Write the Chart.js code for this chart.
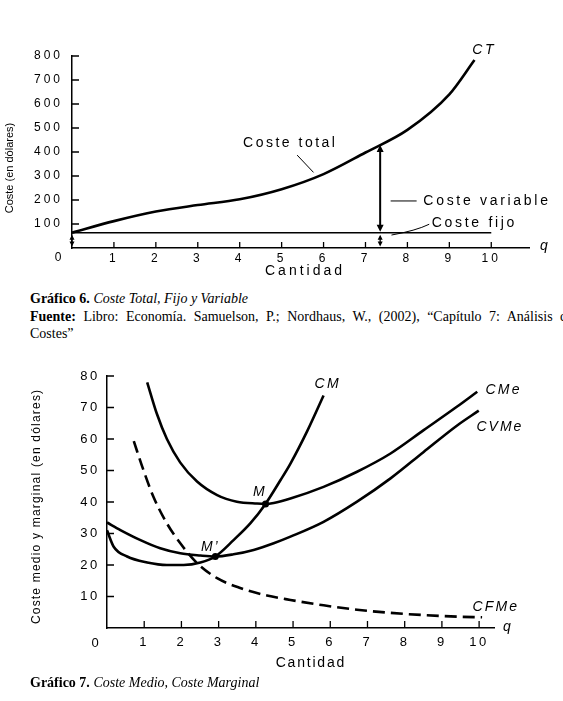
<!DOCTYPE html>
<html lang="es">
<head>
<meta charset="utf-8">
<title>Coste total, medio y marginal</title>
<script src="https://cdn.jsdelivr.net/npm/chart.js@4.4.0/dist/chart.umd.min.js"></script>
<style>
  html, body { margin: 0; padding: 0; background: #fff; }
  body { width: 563px; height: 701px; position: relative; overflow: hidden; }
  canvas { position: absolute; left: 0; }
  #grafico6 { top: 0; }
  #grafico7 { top: 350px; }
  .pie {
    position: absolute; left: 30px;
    font-family: "Liberation Serif", "Times New Roman", serif;
    font-size: 14px; line-height: 17.5px; color: #000; white-space: nowrap;
  }
  .justificada { word-spacing: 4px; }
</style>
</head>
<body>
<canvas id="grafico6" width="563" height="290"></canvas>
<div class="pie" style="top:290px"><b>Gráfico 6.</b> <i>Coste Total, Fijo y Variable</i><br><span class="justificada"><b>Fuente:</b> Libro: Economía. Samuelson, P.; Nordhaus, W., (2002), “Capítulo 7: Análisis de</span><br>Costes”</div>
<canvas id="grafico7" width="563" height="330"></canvas>
<div class="pie" style="top:674px"><b>Gráfico 7.</b> <i>Coste Medio, Coste Marginal</i></div>

<script>
// ---- Gráfico 6: coste total, fijo y variable ----
const qTotal      = [0, 1, 2, 3, 4, 5, 6, 7, 8, 9, 9.6];
const costeTotal  = [64, 112, 152, 179, 203, 245, 308, 398, 492, 640, 783];
const costeFijo   = 64;     // recta del coste fijo
const qFijoFin    = 10;     // hasta donde llega esa recta
const qVariable   = 7.35;   // cantidad donde se marca el coste variable
const ctEnQVar    = 429;    // coste total en esa cantidad
const ticksQ6     = [1, 2, 3, 4, 5, 6, 7, 8, 9, 10];
const ticksCoste6 = [100, 200, 300, 400, 500, 600, 700, 800];

// ---- Gráfico 7: coste medio y marginal ----
const qCM   = [0, 0.18, 0.54, 1.08, 1.61, 2.06, 2.51, 2.91, 3.4, 3.85, 4.26, 4.66, 4.93, 5.38, 5.82];
const cM    = [31, 25.8, 22.7, 20.8, 20, 20, 20.8, 22.7, 27.9, 33.2, 39.4, 46.9, 52.2, 62.5, 73.8];
const qCMe  = [1.08, 1.34, 1.61, 1.97, 2.42, 2.96, 3.49, 4.03, 4.26, 4.48, 4.93, 5.82, 6.72, 7.62, 8.51, 9.41, 9.95];
const cMe   = [78, 68, 60, 52.5, 46.5, 42.2, 40.1, 39.5, 39.4, 39.7, 41.1, 44.8, 49.6, 55.4, 62.8, 70.3, 75];
const qCVMe = [0, 0.36, 0.9, 1.43, 1.97, 2.51, 2.91, 3.4, 3.94, 4.48, 4.93, 5.82, 6.72, 7.62, 8.51, 9.41, 9.99];
const cVMe  = [33.5, 31.1, 27.9, 25.3, 23.7, 23, 22.7, 23.4, 24.8, 26.9, 29, 33.7, 40.1, 47.5, 55.9, 64.3, 69];
const qCFMe = [0.72, 0.98, 1.25, 1.61, 1.97, 2.42, 2.96, 3.58, 4.3, 4.93, 5.82, 6.72, 7.62, 8.51, 9.41, 10.08];
const cFMe  = [59.3, 50.1, 41.6, 33.2, 26.9, 20.6, 15.8, 12.7, 10.3, 8.9, 7.2, 5.8, 4.8, 4.1, 3.6, 3.4];
const puntoM  = { q: 4.26, c: 39.4 };
const puntoMp = { q: 2.91, c: 22.7 };
const ticksQ7     = [1, 2, 3, 4, 5, 6, 7, 8, 9, 10];
const ticksCoste7 = [10, 20, 30, 40, 50, 60, 70, 80];

const FUENTE = '"Liberation Sans", Arial, Helvetica, sans-serif';
Chart.defaults.font.family = FUENTE;
Chart.defaults.color = '#000';
Chart.defaults.animation = false;

function puntos(qs, cs) {
    return qs.map((q, i) => ({ x: q, y: cs[i] }));
}

function linea(data, extra) {
    return Object.assign({
        type: 'line', data, borderColor: '#000', backgroundColor: '#000',
        borderWidth: 2.6, pointRadius: 0, fill: false,
        cubicInterpolationMode: 'monotone'
    }, extra);
}

// texto con espaciado entre letras, opcionalmente girado
function texto(ctx, str, x, y, op) {
    const sp = op.spacing || 0;
    ctx.save();
    ctx.font = op.font;
    ctx.letterSpacing = sp + 'px';
    ctx.fillStyle = '#000';
    ctx.textBaseline = 'middle';
    ctx.textAlign = 'left';
    const w = ctx.measureText(str).width - sp;
    let dx = 0;
    if (op.align === 'center') dx = -w / 2;
    else if (op.align === 'right') dx = -w;
    ctx.translate(x, y);
    if (op.rotate) ctx.rotate(op.rotate);
    ctx.fillText(str, dx, 0);
    ctx.restore();
}

function segmento(ctx, x1, y1, x2, y2, ancho) {
    ctx.save();
    ctx.strokeStyle = '#000';
    ctx.lineWidth = ancho;
    ctx.beginPath();
    ctx.moveTo(x1, y1);
    ctx.lineTo(x2, y2);
    ctx.stroke();
    ctx.restore();
}

// flecha vertical con punta en los dos extremos (y1 arriba, y2 abajo)
function dobleFlecha(ctx, x, y1, y2, ancho, punta) {
    segmento(ctx, x, y1 + punta * 0.8, x, y2 - punta * 0.8, ancho);
    ctx.save();
    ctx.fillStyle = '#000';
    ctx.beginPath();
    ctx.moveTo(x, y1);
    ctx.lineTo(x - punta * 0.5, y1 + punta);
    ctx.lineTo(x + punta * 0.5, y1 + punta);
    ctx.closePath();
    ctx.moveTo(x, y2);
    ctx.lineTo(x - punta * 0.5, y2 - punta);
    ctx.lineTo(x + punta * 0.5, y2 - punta);
    ctx.closePath();
    ctx.fill();
    ctx.restore();
}

// las marcas de los ejes van hacia dentro del gráfico
function marcasInternas(chart, largoX, largoY) {
    const { ctx, chartArea: a, scales: { x, y } } = chart;
    ctx.save();
    ctx.strokeStyle = '#000';
    ctx.lineWidth = 1.3;
    ctx.beginPath();
    x.ticks.forEach(t => {
        const px = x.getPixelForValue(t.value);
        ctx.moveTo(px, a.bottom);
        ctx.lineTo(px, a.bottom - largoX);
    });
    y.ticks.forEach(t => {
        const py = y.getPixelForValue(t.value);
        ctx.moveTo(a.left, py);
        ctx.lineTo(a.left + largoY, py);
    });
    ctx.stroke();
    ctx.restore();
}

function ejes(cfg) {
    return {
        x: {
            type: 'linear', min: 0, max: cfg.xMax,
            afterBuildTicks: s => { s.ticks = cfg.ticksX.map(v => ({ value: v })); },
            afterFit: s => { s.height = 20; },
            grid: { display: false, drawTicks: false },
            border: { color: '#000', width: 1.5 },
            ticks: { padding: cfg.padX, font: { size: cfg.fontTicks }, maxRotation: 0, autoSkip: false }
        },
        y: {
            type: 'linear', min: 0, max: cfg.yMax,
            afterBuildTicks: s => { s.ticks = cfg.ticksY.map(v => ({ value: v })); },
            afterFit: s => { s.width = cfg.anchoY; },
            grid: { display: false, drawTicks: false },
            border: { color: '#000', width: 1.5 },
            ticks: { padding: cfg.padY, font: { size: cfg.fontTicks }, autoSkip: false }
        }
    };
}

const espaciado = sp => ({
    id: 'espaciado',
    beforeDraw(chart) { chart.ctx.letterSpacing = sp + 'px'; }
});

const f14 = '14px ' + FUENTE;
const i14 = 'italic 14px ' + FUENTE;

const notas6 = {
    id: 'notas6',
    afterDraw(chart) {
        const { ctx, chartArea: a, scales: { x, y } } = chart;
        marcasInternas(chart, 6, 7);
        const X = v => x.getPixelForValue(v);
        const Y = v => y.getPixelForValue(v);

        texto(ctx, '0', X(0) - 14, a.bottom + 10, { font: '12px ' + FUENTE, align: 'center' });
        texto(ctx, 'q', a.right + 15, a.bottom - 2, { font: i14, align: 'center' });
        texto(ctx, 'CT', X(9.8), Y(825), { font: i14, spacing: 2.5, align: 'center' });

        texto(ctx, 'Coste total', X(4.08), Y(437), { font: f14, spacing: 2.5 });
        segmento(ctx, X(5.37), Y(387), X(5.76), Y(315), 1);

        dobleFlecha(ctx, X(qVariable), Y(ctEnQVar), Y(costeFijo) - 1, 2, 7);
        dobleFlecha(ctx, X(qVariable), Y(costeFijo) + 2, Y(0) - 1.5, 1.3, 5);
        dobleFlecha(ctx, a.left, Y(costeFijo) + 2, Y(0) - 1.5, 1.3, 5);

        segmento(ctx, X(7.6), Y(196), X(8.22), Y(196), 1);
        texto(ctx, 'Coste variable', X(8.38), Y(196), { font: f14, spacing: 2.7 });

        ctx.save();
        ctx.strokeStyle = '#000';
        ctx.lineWidth = 1;
        ctx.beginPath();
        ctx.moveTo(X(7.62), Y(54));
        ctx.quadraticCurveTo(X(8.2), Y(72), X(8.52), Y(99));
        ctx.stroke();
        ctx.restore();
        texto(ctx, 'Coste fijo', X(8.58), Y(103), { font: f14, spacing: 2.7 });

        texto(ctx, 'Cantidad', (a.left + a.right) / 2 + 3, a.bottom + 23, { font: f14, spacing: 3, align: 'center' });
        texto(ctx, 'Coste (en dólares)', 10, 168, { font: '11px ' + FUENTE, align: 'center', rotate: -Math.PI / 2 });
    }
};

const notas7 = {
    id: 'notas7',
    afterDraw(chart) {
        const { ctx, chartArea: a, scales: { x, y } } = chart;
        marcasInternas(chart, 7, 7);
        const X = v => x.getPixelForValue(v);
        const Y = v => y.getPixelForValue(v);

        texto(ctx, '0', X(0) - 12, a.bottom + 15, { font: '13px ' + FUENTE, align: 'center' });
        texto(ctx, 'q', a.right + 13, a.bottom - 1, { font: i14, align: 'center' });

        texto(ctx, 'CM', X(5.9), Y(77.3), { font: i14, spacing: 2.3, align: 'center' });
        texto(ctx, 'CMe', X(10.17), Y(75.4), { font: i14, spacing: 2.3 });
        texto(ctx, 'CVMe', X(9.93), Y(63.7), { font: i14, spacing: 2 });
        texto(ctx, 'CFMe', X(9.82), Y(6.7), { font: i14, spacing: 2.2 });
        texto(ctx, 'M', X(4.08), Y(43.1), { font: i14, align: 'center' });
        texto(ctx, 'M\u2019', X(2.75), Y(25.8), { font: i14, spacing: 2, align: 'center' });

        texto(ctx, 'Cantidad', 310, a.bottom + 35, { font: f14, spacing: 1.8, align: 'center' });
        texto(ctx, 'Coste medio y marginal (en dólares)', 37, 157, { font: '12px ' + FUENTE, spacing: 1.2, align: 'center', rotate: -Math.PI / 2 });
    }
};

new Chart(document.getElementById('grafico6'), {
    type: 'line',
    data: {
        datasets: [
            linea(puntos(qTotal, costeTotal), { label: 'CT', borderWidth: 2.6 }),
            linea([{ x: 0, y: costeFijo }, { x: qFijoFin, y: costeFijo }], { label: 'Coste fijo', borderWidth: 1.5 })
        ]
    },
    options: {
        responsive: false,
        layout: { padding: { top: 56, left: 0, right: 34, bottom: 22 } },
        plugins: { legend: { display: false }, tooltip: { enabled: false } },
        scales: ejes({ xMax: 10.9, yMax: 800, ticksX: ticksQ6, ticksY: ticksCoste6, anchoY: 72, padX: 3, padY: 9, fontTicks: 12 })
    },
    plugins: [espaciado(3), notas6]
});

new Chart(document.getElementById('grafico7'), {
    type: 'line',
    data: {
        datasets: [
            linea(puntos(qCM, cM), { label: 'CM' }),
            linea(puntos(qCMe, cMe), { label: 'CMe' }),
            linea(puntos(qCVMe, cVMe), { label: 'CVMe' }),
            linea(puntos(qCFMe, cFMe), { label: 'CFMe', borderDash: [12, 6] }),
            {
                type: 'scatter', label: 'M, M\u2019',
                data: [{ x: puntoM.q, y: puntoM.c }, { x: puntoMp.q, y: puntoMp.c }],
                pointRadius: 3.5, pointBackgroundColor: '#000', pointBorderWidth: 0, showLine: false
            }
        ]
    },
    options: {
        responsive: false,
        layout: { padding: { top: 26, left: 0, right: 69, bottom: 32 } },
        plugins: { legend: { display: false }, tooltip: { enabled: false } },
        scales: ejes({ xMax: 10.4, yMax: 80, ticksX: ticksQ7, ticksY: ticksCoste7, anchoY: 107, padX: 7, padY: 7, fontTicks: 13 })
    },
    plugins: [espaciado(2.7), notas7]
});
</script>
</body>
</html>
